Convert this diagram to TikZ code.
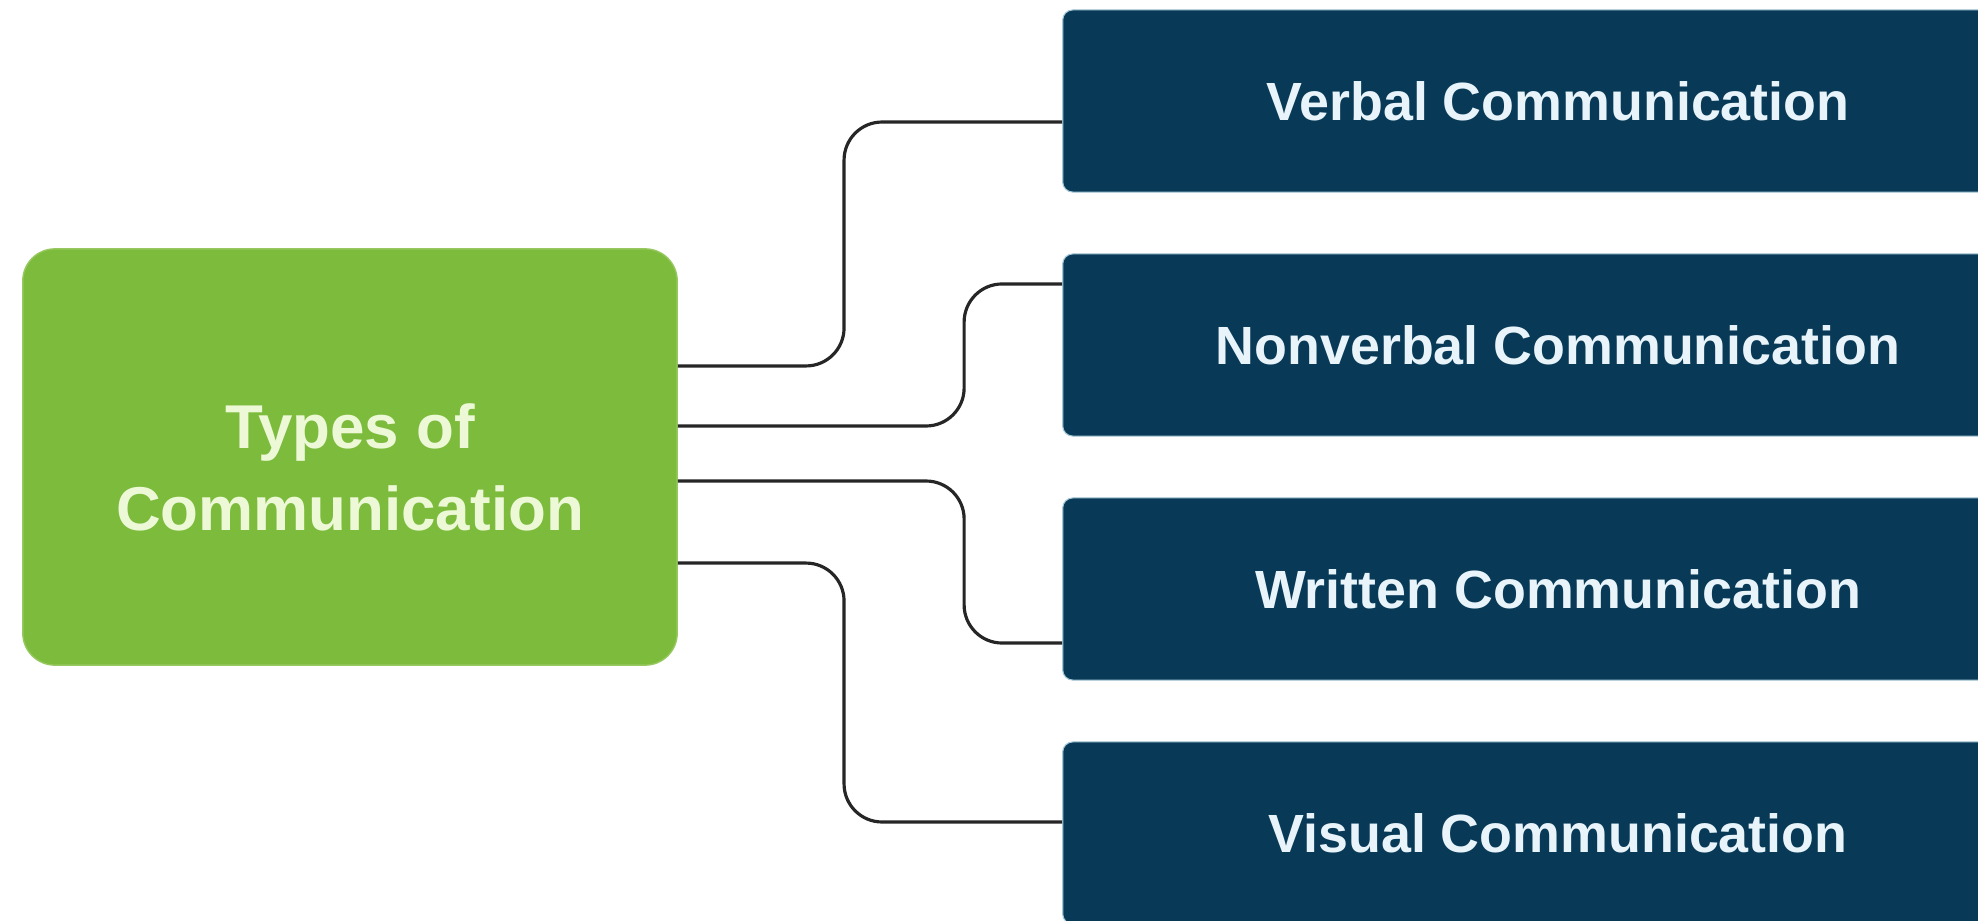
\documentclass[tikz,border=0pt]{standalone}
\usepackage{fontspec}
\setmainfont{Liberation Sans}
\usetikzlibrary{positioning}
\definecolor{leafgreen}{RGB}{124,187,60}
\definecolor{leafedge}{RGB}{150,200,95}
\definecolor{paletext}{RGB}{236,248,214}
\definecolor{deepnavy}{RGB}{8,58,88}
\definecolor{navyedge}{RGB}{165,198,215}
\definecolor{icetext}{RGB}{232,244,250}
\begin{document}
\begin{tikzpicture}[x=0.01cm,y=-0.01cm,
    rootbox/.style={fill=leafgreen, draw=leafedge, line width=0.4pt, rounded corners=0.32cm,
      minimum width=6.54cm, minimum height=4.16cm, align=center, text=paletext,
      font=\fontsize{17.6}{23.3}\selectfont\bfseries},
    typebox/.style={fill=deepnavy, draw=navyedge, line width=0.3pt, rounded corners=0.1cm,
      minimum width=9.9cm, minimum height=1.82cm, text=icetext,
      font=\fontsize{15.3}{18}\selectfont\bfseries},
    link/.style={draw=black!85, line width=0.9pt, rounded corners=0.38cm}]
  \clip (0,0) rectangle (1978,921);
  \fill[white] (0,0) rectangle (1978,921);
  % Main topic
  \node[rootbox] (root) at (350,457) {\rule{0pt}{18.5pt}Types of\\Communication};
  % Types
  \node[typebox] (verbal) at (1558,101) {Verbal Communication};
  \node[typebox] (nonverbal) at (1558,345) {Nonverbal Communication};
  \node[typebox] (written) at (1558,589) {Written Communication};
  \node[typebox] (visual) at (1558,833) {Visual Communication};
  % Attachment points
  \coordinate (r1) at ([yshift=0.91cm]root.east);
  \coordinate (r2) at ([yshift=0.31cm]root.east);
  \coordinate (r3) at ([yshift=-0.24cm]root.east);
  \coordinate (r4) at ([yshift=-1.06cm]root.east);
  \coordinate (t1) at ([yshift=-0.21cm]verbal.west);
  \coordinate (t2) at ([yshift=0.61cm]nonverbal.west);
  \coordinate (t3) at ([yshift=-0.54cm]written.west);
  \coordinate (t4) at ([yshift=0.11cm]visual.west);
  % Connectors
  \draw[link] (r1) -| ([xshift=-2.18cm]t1) -- (t1);
  \draw[link] (r2) -| ([xshift=-0.98cm]t2) -- (t2);
  \draw[link] (r3) -| ([xshift=-0.98cm]t3) -- (t3);
  \draw[link] (r4) -| ([xshift=-2.18cm]t4) -- (t4);
\end{tikzpicture}
\end{document}
